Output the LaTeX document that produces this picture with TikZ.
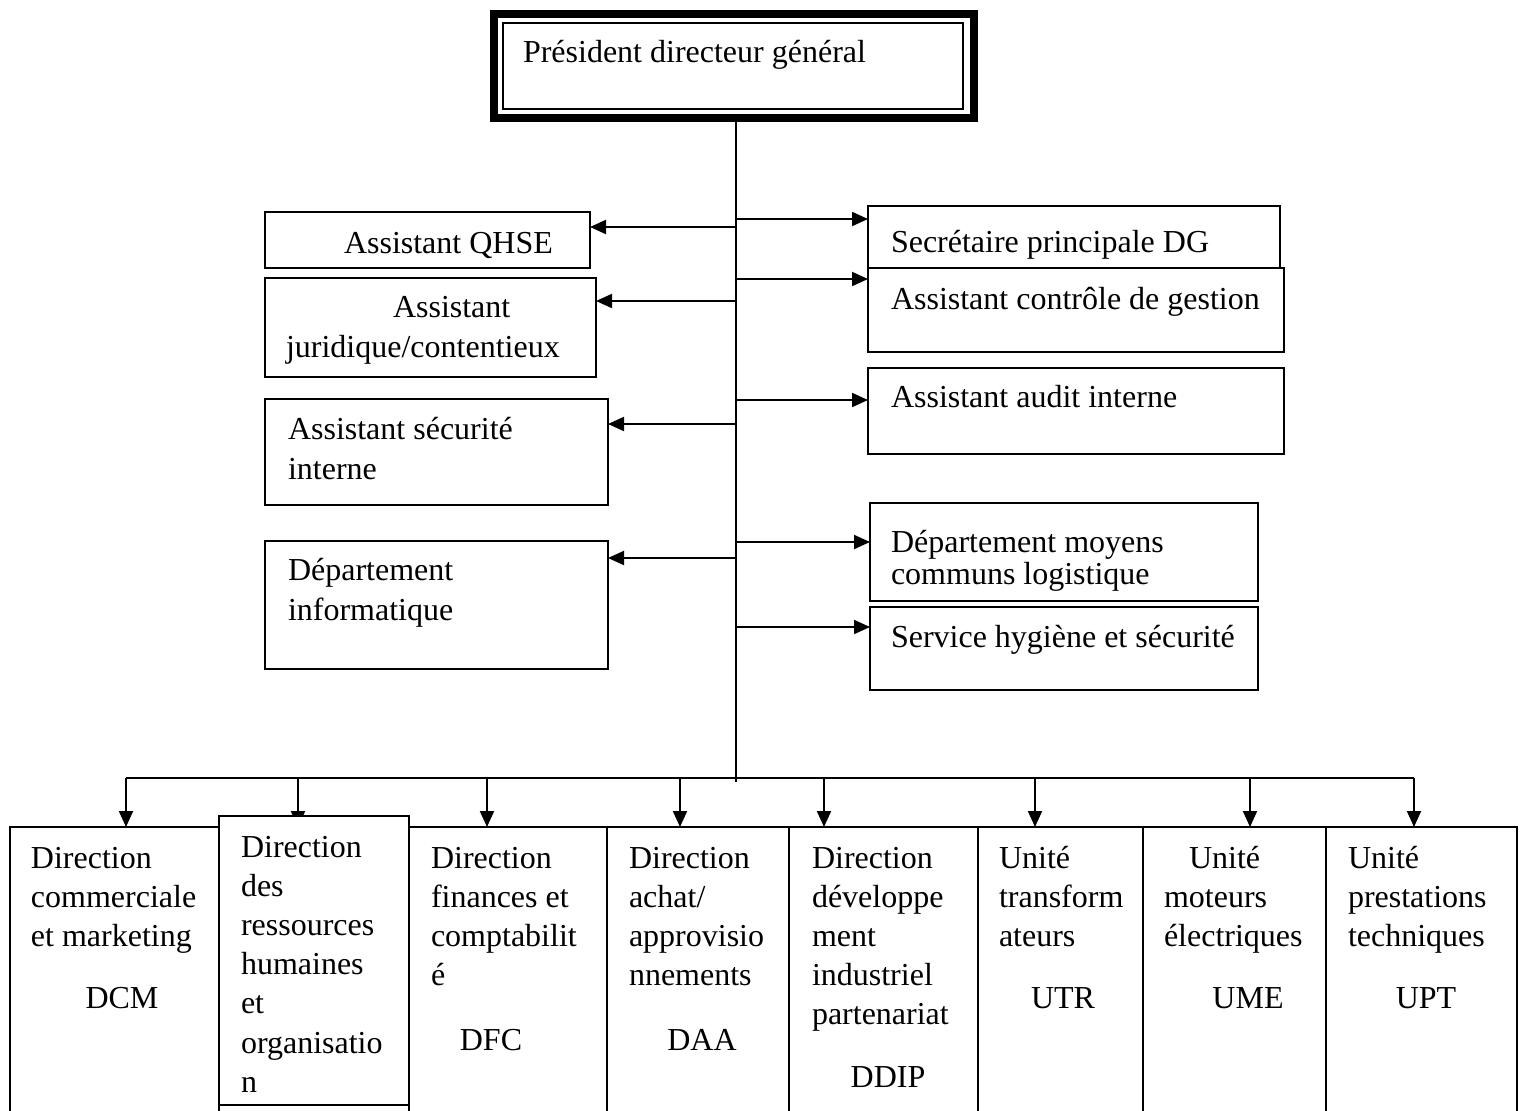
\documentclass[tikz,border=0pt]{standalone}
\usepackage{fontspec}
\setmainfont{Liberation Serif}
\usetikzlibrary{arrows.meta}

\tikzset{
  box/.style={draw, inner sep=0pt, outer sep=0pt, anchor=north west},
  txt/.style={anchor=base west, inner sep=0pt, align=left, font=\fontsize{16}{19.6}\selectfont},
  arr/.style={-{Triangle[length=8pt,width=7pt]}},
}

\begin{document}
\begin{tikzpicture}[x=1pt, y=-1pt, line width=1pt]
    \useasboundingbox[fill=white] (0,0) rectangle (761,555);
    \node[box, line width=4pt, minimum width=240pt, minimum height=52pt] (pdg) at (247,7) {};
    \draw ([shift={(4.5,4.5)}]pdg.north west) rectangle ([shift={(-5.5,-4.5)}]pdg.south east);
    \node[txt] (pdg-t) at (261,31) {Président directeur général};
    \coordinate (bus) at (368,391);
    \draw (pdg.south -| bus) -- (bus);

    % multi-line texts sit on the baseline of their last line
    \node[box, minimum width=162.5pt, minimum height=28pt] (qhse) at (132.5,106) {};
    \node[txt] (qhse-t) at (171.5,126.5) {Assistant QHSE};
    \node[box, minimum width=165.5pt, minimum height=49.5pt] (jur) at (132.5,139) {};
    \node[txt] (jur-t) at (142.5,178.5) {\hspace*{53.5pt}Assistant\\juridique/contentieux};
    \node[box, minimum width=171.5pt, minimum height=53pt] (secu) at (132.5,199.5) {};
    \node[txt] (secu-t) at (143.5,239.5) {Assistant sécurité\\interne};
    \node[box, minimum width=171.5pt, minimum height=64pt] (info) at (132.5,270.5) {};
    \node[txt] (info-t) at (143.5,310) {Département\\informatique};

    \node[box, minimum width=206pt, minimum height=31pt] (sec) at (434,103) {};
    \node[txt] (sec-t) at (445,126) {Secrétaire principale DG};
    \node[box, minimum width=208pt, minimum height=42pt] (cdg) at (434,134) {};
    \node[txt] (cdg-t) at (445,154.5) {Assistant contrôle de gestion};
    \node[box, minimum width=208pt, minimum height=43pt] (audit) at (434,184) {};
    \node[txt] (audit-t) at (445,203.5) {Assistant audit interne};
    \node[box, minimum width=194pt, minimum height=49pt] (dmcl) at (435,251.5) {};
    \node[txt] (dmcl-t) at (445,292) {Département moyens\\[-4pt]communs logistique};
    \node[box, minimum width=194pt, minimum height=41.5pt] (shs) at (435,303.5) {};
    \node[txt] (shs-t) at (445,323.5) {Service hygiène et sécurité};

    \foreach \b/\y in {qhse/113.5, jur/150.5, secu/212, info/279} {
        \coordinate (t-\b) at (368,\y);
        \draw[arr] (t-\b) -- (t-\b -| \b.east);
    }
    \foreach \b/\y in {sec/109.5, cdg/139.5, audit/200, dmcl/271, shs/313.5} {
        \coordinate (t-\b) at (368,\y);
        \draw[arr] (t-\b) -- (t-\b -| \b.west);
    }

    \node[box, minimum width=104.5pt, minimum height=150pt] (dcm) at (5,413.5) {};
    \node[box, minimum width=99pt, minimum height=150pt] (dfc) at (204.5,413.5) {};
    \node[box, minimum width=91pt, minimum height=150pt] (daa) at (303.5,413.5) {};
    \node[box, minimum width=94.5pt, minimum height=150pt] (ddip) at (394.5,413.5) {};
    \node[box, minimum width=82.5pt, minimum height=150pt] (utr) at (489,413.5) {};
    \node[box, minimum width=91.5pt, minimum height=150pt] (ume) at (571.5,413.5) {};
    \node[box, minimum width=95.5pt, minimum height=150pt] (upt) at (663,413.5) {};

    \foreach \b/\x in {dcm/63, drh/149, dfc/243.5, daa/340, ddip/412, utr/517.5, ume/625, upt/707} {
        \coordinate (b-\b) at (\x,389);
        \draw[arr] (b-\b) -- (b-\b |- dcm.north);
    }
    \draw (b-dcm) -- (b-upt);

    \node[box, fill=white, minimum width=95pt, minimum height=144.5pt] (drh) at (109.5,408) {};
    \draw (drh.south west) -- ++(0,10) (drh.south east) -- ++(0,10);

    \node[txt] (dcm-t) at (15,473.2) {Direction\\commerciale\\et marketing};
    \node[txt, anchor=base] (dcm-a) at (61,504) {DCM};
    \node[txt] (drh-t) at (120,546.1) {Direction\\des\\ressources\\humaines\\et\\organisatio\\n};
    \node[txt] (dfc-t) at (215,492.8) {Direction\\finances et\\comptabilit\\é};
    \node[txt, anchor=base] (dfc-a) at (245.5,525) {DFC};
    \node[txt] (daa-t) at (314,492.8) {Direction\\achat/\\approvisio\\nnements};
    \node[txt, anchor=base] (daa-a) at (351,525) {DAA};
    \node[txt] (ddip-t) at (405.5,512.4) {Direction\\développe\\ment\\industriel\\partenariat};
    \node[txt, anchor=base] (ddip-a) at (444,543.5) {DDIP};
    \node[txt] (utr-t) at (499,473.2) {Unité\\transform\\ateurs};
    \node[txt, anchor=base] (utr-a) at (531.5,504) {UTR};
    \node[txt] (ume-t) at (581.5,473.2) {\hspace*{12.5pt}Unité\\moteurs\\électriques};
    \node[txt, anchor=base] (ume-a) at (624,504) {UME};
    \node[txt] (upt-t) at (673.5,473.2) {Unité\\prestations\\techniques};
    \node[txt, anchor=base] (upt-a) at (713,504) {UPT};
\end{tikzpicture}
\end{document}
